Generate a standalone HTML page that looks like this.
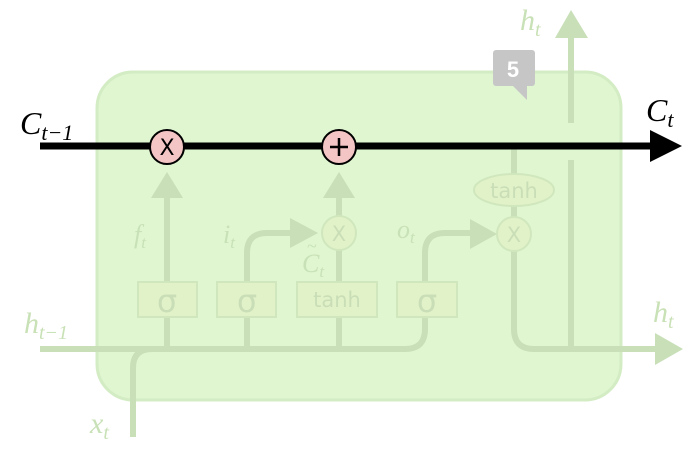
<!DOCTYPE html>
<html><head><style>html,body{margin:0;padding:0;background:#fff;width:700px;height:453px;overflow:hidden}</style></head>
<body>
<svg width="700" height="453" viewBox="0 0 700 453" xmlns="http://www.w3.org/2000/svg">
<rect x="97" y="72" width="524" height="328" rx="36" fill="#dff6d0" stroke="#d3ecc3" stroke-width="3"/>
<g stroke="#c8dfb8" stroke-width="6" fill="none" stroke-linecap="butt">
<path d="M40 349 H405 Q425 349 425 329 V315"/>
<path d="M133 437 V368 Q133 349 152 349"/>
<path d="M167 349 V317 M167 282 V196"/>
<path d="M247 349 V317 M247 282 V253 Q247 233 267 233 H292"/>
<path d="M339 349 V317 M339 282 V250 M339 216 V196"/>
<path d="M425 282 V253 Q425 233 445 233 H470"/>
<path d="M514 148 V174 M514 206 V217 M514 251 V329 Q514 349 534 349 H655"/>
<path d="M571 160 V349"/>
<path d="M571 123 V36"/>
</g>
<g fill="#c8dfb8">
<polygon points="151,198 183,198 167,172"/>
<polygon points="323,198 355,198 339,172"/>
<polygon points="290,218 290,248 318,233"/>
<polygon points="470,219 470,249 497,234"/>
<polygon points="655,333 655,365 683,349"/>
<polygon points="555,38 588,38 571,10"/>
</g>
<g stroke="#d0e7bd" stroke-width="2" fill="#e2f2c8">
<rect x="138" y="282" width="59" height="35"/>
<rect x="217" y="282" width="59" height="35"/>
<rect x="297" y="282" width="80" height="35"/>
<rect x="397" y="282" width="60" height="35"/>
<circle cx="339" cy="233" r="17" fill="#e2f2c8"/>
<circle cx="514" cy="234" r="17" fill="#e2f2c8"/>
<ellipse cx="514" cy="190" rx="40" ry="16" fill="#e2f2c8"/>
</g>
<g font-family="DejaVu Sans, sans-serif" fill="#c9deb7" text-anchor="middle">
<text x="167" y="312" font-size="32">σ</text>
<text x="247" y="312" font-size="32">σ</text>
<text x="427" y="312" font-size="32">σ</text>
<text x="337" y="307" font-size="21">tanh</text>
<text x="514" y="198" font-size="21">tanh</text>
<text x="339" y="241" font-size="21">X</text>
<text x="514" y="242" font-size="21">X</text>
</g>
<g font-family="Liberation Serif, serif" font-style="italic" fill="#c9e1b6">
<text x="134" y="243" font-size="26">f<tspan font-size="17" dy="5">t</tspan></text>
<text x="223" y="243" font-size="26">i<tspan font-size="17" dy="5">t</tspan></text>
<text x="302" y="272" font-size="26">C<tspan font-size="17" dy="5">t</tspan></text>
<text x="397" y="238" font-size="26">o<tspan font-size="17" dy="5">t</tspan></text>
<text x="24" y="333" font-size="30">h<tspan font-size="20" dy="6">t−1</tspan></text>
<text x="90" y="433" font-size="30">x<tspan font-size="20" dy="6">t</tspan></text>
<text x="520" y="30" font-size="30">h<tspan font-size="20" dy="6">t</tspan></text>
<text x="653" y="322" font-size="30">h<tspan font-size="20" dy="6">t</tspan></text>
</g>
<text x="307" y="252" font-family="Liberation Serif, serif" font-size="18" fill="#c9e1b6">~</text>
<line x1="40" y1="146" x2="652" y2="146" stroke="#000" stroke-width="7"/>
<polygon points="650,130 650,162 682,146" fill="#000"/>
<g stroke="#000" stroke-width="2" fill="#f4c5c5">
<circle cx="167" cy="147" r="17"/>
<circle cx="339" cy="147" r="17"/>
</g>
<text x="167" y="155" font-family="DejaVu Sans, sans-serif" font-size="22" text-anchor="middle" fill="#000">X</text>
<path d="M330 147 H348 M339 138 V156" stroke="#000" stroke-width="2.5"/>
<g font-family="Liberation Serif, serif" font-style="italic" fill="#000">
<text x="20" y="134" font-size="32">C<tspan font-size="22" dy="6">t−1</tspan></text>
<text x="646" y="121" font-size="32">C<tspan font-size="22" dy="6">t</tspan></text>
</g>
<rect x="493" y="50" width="42" height="36" rx="3" fill="#c6c6c6"/>
<polygon points="512,85 527,85 527,100" fill="#c6c6c6"/>
<text x="513" y="77" font-family="Liberation Sans, sans-serif" font-weight="bold" font-size="22" fill="#fff" text-anchor="middle">5</text>
</svg>
</body></html>
